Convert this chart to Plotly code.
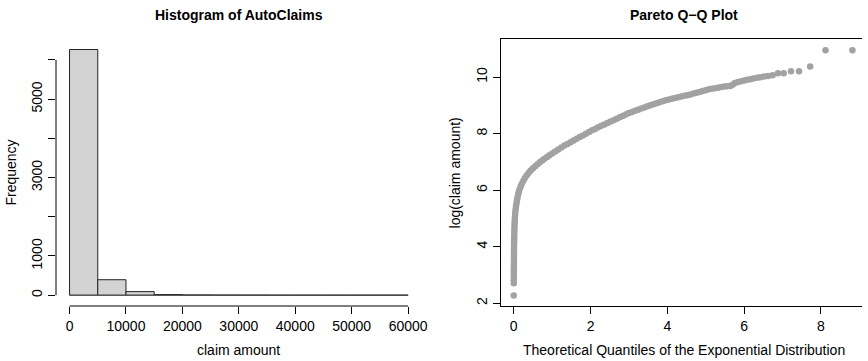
import plotly.graph_objects as go

# ---------------- data ----------------
# Histogram of AutoClaims (bin edges every 5000, counts)
bin_left = [0, 5000, 10000, 15000, 20000, 25000, 30000, 35000, 40000, 45000, 50000, 55000]
bin_width = 5000
counts = [6265, 395, 92, 18, 7, 3, 2, 0, 0, 0, 0, 1]
hist_xticks = [0, 10000, 20000, 30000, 40000, 50000, 60000]
hist_yticks = [0, 1000, 2000, 3000, 4000, 5000, 6000]
hist_ylabels = ["0", "1000", "", "3000", "", "5000", ""]

# Pareto Q-Q plot (theoretical exponential quantiles vs log(claim amount))
qq_x = [0.000, 0.001, 0.002, 0.002, 0.003, 0.003, 0.004, 0.004, 0.005, 0.005,
        0.006, 0.006, 0.007, 0.008, 0.009, 0.010, 0.011, 0.012, 0.014, 0.016,
        0.018, 0.020, 0.023, 0.027, 0.031, 0.036, 0.042, 0.050, 0.060, 0.071,
        0.083, 0.097, 0.112, 0.13, 0.15, 0.18, 0.21, 0.25, 0.29, 0.34,
        0.39, 0.44, 0.50, 0.56, 0.62, 0.68, 0.74, 0.80, 0.87, 0.93,
        1.00, 1.08, 1.16, 1.24, 1.32, 1.40, 1.48, 1.56, 1.64, 1.72,
        1.80, 1.88, 1.96, 2.04, 2.12, 2.20, 2.28, 2.36, 2.44, 2.52,
        2.60, 2.68, 2.76, 2.84, 2.92, 3.00, 3.08, 3.16, 3.24, 3.32,
        3.40, 3.48, 3.56, 3.64, 3.72, 3.80, 3.88, 3.96, 4.04, 4.12,
        4.20, 4.28, 4.36, 4.44, 4.52, 4.60, 4.68, 4.76, 4.84, 4.92,
        5.00, 5.08, 5.16, 5.24, 5.32, 5.40, 5.48, 5.56, 5.64, 5.70,
        5.76, 5.84, 5.92, 6.00, 6.08, 6.16, 6.24, 6.34, 6.42, 6.52,
        6.62, 6.74, 6.88, 7.03, 7.22, 7.43, 7.72, 8.12, 8.82]
qq_y = [2.28, 2.71, 2.82, 2.93, 3.03, 3.13, 3.23, 3.33, 3.43, 3.53,
        3.63, 3.73, 3.83, 3.93, 4.03, 4.13, 4.23, 4.33, 4.43, 4.53,
        4.63, 4.73, 4.83, 4.93, 5.03, 5.13, 5.23, 5.33, 5.43, 5.53,
        5.63, 5.73, 5.83, 5.93, 6.03, 6.13, 6.23, 6.33, 6.43, 6.53,
        6.62, 6.70, 6.78, 6.85, 6.92, 6.99, 7.05, 7.11, 7.18, 7.24,
        7.30, 7.37, 7.44, 7.51, 7.58, 7.64, 7.70, 7.76, 7.82, 7.88,
        7.94, 8.00, 8.06, 8.12, 8.17, 8.23, 8.28, 8.33, 8.38, 8.43,
        8.48, 8.53, 8.58, 8.63, 8.68, 8.73, 8.77, 8.81, 8.85, 8.89,
        8.93, 8.97, 9.01, 9.04, 9.08, 9.11, 9.15, 9.18, 9.21, 9.24,
        9.26, 9.29, 9.32, 9.34, 9.36, 9.39, 9.42, 9.45, 9.48, 9.51,
        9.54, 9.57, 9.59, 9.61, 9.63, 9.65, 9.67, 9.68, 9.69, 9.73,
        9.79, 9.83, 9.86, 9.88, 9.91, 9.93, 9.95, 9.98, 10.00, 10.02,
        10.04, 10.07, 10.14, 10.14, 10.21, 10.21, 10.38, 10.95, 10.95]
qq_xticks = [0, 2, 4, 6, 8]
qq_yticks = [2, 4, 6, 8, 10]

# ---------------- figure ----------------
W, H = 868, 361
FONT = "Liberation Sans, Arial, Helvetica, sans-serif"

# plot regions in pixels
L_left, L_right = 56.4, 424.6
R_left, R_right = 504.0, 868.0
P_top, P_bot = 39.3, 306.0
ydom = [(H - P_bot) / H, (H - P_top) / H]

fig = go.Figure()

fig.add_trace(go.Bar(
    x=bin_left, y=counts, width=bin_width, offset=0,
    marker=dict(color="#d3d3d3", line=dict(color="#222222", width=1)),
    xaxis="x", yaxis="y", showlegend=False, hoverinfo="skip"))

fig.add_trace(go.Scatter(
    x=qq_x, y=qq_y, mode="markers",
    marker=dict(color="#a2a2a2", size=6.5, line=dict(width=0)),
    xaxis="x2", yaxis="y2", showlegend=False, hoverinfo="skip"))

tickfont = dict(family=FONT, size=14, color="#000")
common_ax = dict(showgrid=False, zeroline=False, ticks="outside", ticklen=7,
                 tickwidth=1, tickcolor="#000", tickfont=tickfont)

fig.update_layout(
    width=W, height=H, margin=dict(l=0, r=0, t=0, b=0), autosize=False,
    paper_bgcolor="white", plot_bgcolor="white",
    font=dict(family=FONT, size=14, color="#000"),
    bargap=0,
    xaxis=dict(domain=[L_left / W, L_right / W], range=[-2400, 62400],
               tickvals=hist_xticks, ticktext=[str(v) for v in hist_xticks],
               showline=False, anchor="y", **common_ax),
    yaxis=dict(domain=ydom, range=[-275, 6525], tickvals=hist_yticks,
               ticktext=hist_ylabels, tickangle=-90, showline=False,
               anchor="x", **common_ax),
    xaxis2=dict(domain=[R_left / W, R_right / W], range=[-0.344, 9.07],
                tickvals=qq_xticks, showline=True, linecolor="#000",
                linewidth=1, mirror=True, anchor="y2", **common_ax),
    yaxis2=dict(domain=ydom, range=[1.905, 11.34], tickvals=qq_yticks,
                tickangle=-90, showline=True, linecolor="#000", linewidth=1,
                mirror=False, anchor="x2", **common_ax),
)

# histogram axis lines spanning only the tick range (R style)
fig.add_shape(type="line", xref="x", yref="paper",
              x0=hist_xticks[0], x1=hist_xticks[-1], y0=ydom[0], y1=ydom[0],
              line=dict(color="#000", width=1))
fig.add_shape(type="line", xref="paper", yref="y",
              x0=L_left / W, x1=L_left / W, y0=hist_yticks[0], y1=hist_yticks[-1],
              line=dict(color="#000", width=1))
# baseline of the (zero-height) histogram bars
fig.add_shape(type="line", xref="x", yref="y",
              x0=bin_left[0], x1=bin_left[-1] + bin_width, y0=0, y1=0,
              line=dict(color="#555", width=1))

title_font = dict(family=FONT, size=14, color="#000")
pareto_center = (R_left + 872.7) / 2
annotations = [
    dict(text="<b>Histogram of AutoClaims</b>", x=(L_left + L_right) / 2 / W, y=1 - 15 / H),
    dict(text="<b>Pareto Q\u2212Q Plot</b>", x=pareto_center / W, y=1 - 15 / H),
    dict(text="claim amount", x=(L_left + L_right) / 2 / W, y=1 - 350 / H),
    dict(text="Theoretical Quantiles of the Exponential Distribution", x=pareto_center / W, y=1 - 350 / H),
    dict(text="Frequency", x=11 / W, y=1 - (P_top + P_bot) / 2 / H, textangle=-90),
    dict(text="log(claim amount)", x=458 / W, y=1 - (P_top + P_bot) / 2 / H, textangle=-90),
]
for a in annotations:
    fig.add_annotation(xref="paper", yref="paper", showarrow=False,
                       xanchor="center", yanchor="middle", font=title_font, **a)

fig.write_html(
    "out.html",
    config={"displayModeBar": False, "responsive": False, "staticPlot": True},
    post_script="document.body.style.margin='0';document.body.style.overflow='hidden';",
)
